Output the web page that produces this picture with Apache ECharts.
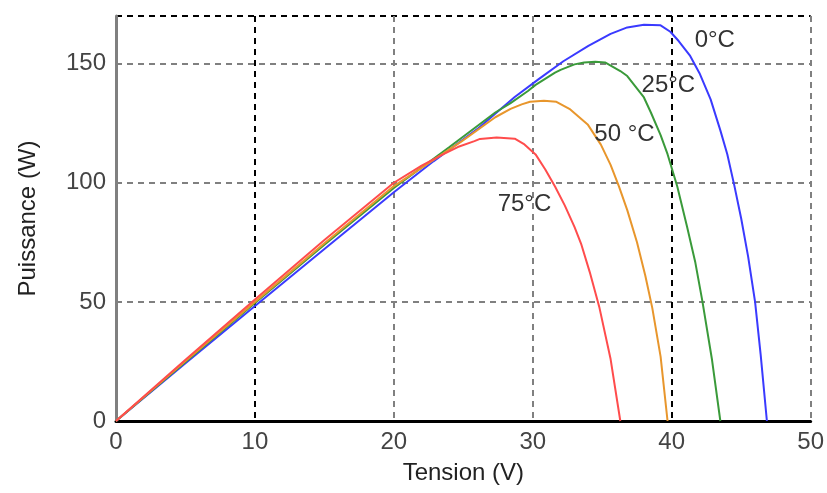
<!DOCTYPE html>
<html>
<head>
<meta charset="utf-8">
<script src="https://cdn.jsdelivr.net/npm/echarts@6/dist/echarts.min.js"></script>
<style>html,body{margin:0;padding:0;background:#fff}#c{width:827px;height:493px}</style>
</head>
<body>
<div id="c"></div>
<script>
// Tension (V) / Puissance (W)
const v0 = [0, 5, 10, 15, 20, 22.85, 26.1, 28.7, 30.4, 32.2, 34, 35.6, 36.8, 38, 39.2, 39.9, 40.5, 41.3, 42, 42.8, 43.5, 44, 44.5, 45, 45.5, 46, 46.4, 46.85];
const p0 = [0, 24.2, 48.3, 72.2, 96, 109, 123, 136, 143.4, 151, 157.5, 162.5, 165.2, 166.3, 166.1, 163.4, 159.5, 153.5, 146, 135, 122, 112, 99, 85, 69, 50, 28, 0];

const v25 = [0, 5, 10, 15, 20, 24, 27.3, 28.4, 29.65, 30.2, 31.6, 32, 33, 33.7, 34.5, 35.2, 36.3, 36.8, 38, 38.5, 39.2, 39.7, 40.4, 41.1, 41.7, 42.2, 42.9, 43.5];
const p25 = [0, 24.8, 49.5, 74, 97.8, 115, 129.5, 133.4, 138.5, 141.1, 146.2, 147.4, 149.7, 150.5, 150.8, 150.5, 146.9, 144.8, 135.8, 129.5, 120, 112, 98.4, 81.6, 66.5, 50.5, 25.7, 0];

const v50 = [0, 5, 10, 15, 20, 24.9, 27.3, 28.4, 29.2, 29.8, 30.8, 31.7, 32.7, 33.95, 34.9, 35.6, 36.2, 36.8, 37.5, 38.1, 38.6, 39.2, 39.7];
const p50 = [0, 25.2, 50, 74.6, 98.6, 117.5, 127.5, 131, 132.9, 134, 134.4, 134, 130.8, 124.5, 116, 107.5, 98.5, 88.5, 75, 61, 47.5, 27, 0];

const v75 = [0, 5, 10, 15, 20, 22, 23.5, 24.6, 25.8, 26.2, 27.4, 28.7, 29.4, 30.2, 30.9, 31.6, 32.3, 33.0, 33.5, 34.1, 34.8, 35.6, 36.3];
const p75 = [0, 25.7, 51, 76, 100, 107.2, 111.8, 115, 117.5, 118.4, 119, 118.5, 116.1, 111.9, 105.6, 98.4, 90.5, 81.5, 74, 62.5, 47.5, 26, 0];

const labels = ['0°C', '25°C', '50 °C', '75°C'];
const labelV = [43.1, 39.76, 36.6, 29.4];
const labelP = [159.8, 141, 120.5, 91];

const xTicks = [0, 10, 20, 30, 40, 50];
const yTicks = [0, 50, 100, 150];

const colors = ['#3a3aff', '#3a9a3a', '#e8962c', '#ff4c4c'];
const sets = [[v0, p0], [v25, p25], [v50, p50], [v75, p75]];

const font = "'Liberation Sans', Arial, sans-serif";
const chart = echarts.init(document.getElementById('c'), null, {renderer: 'canvas'});

const series = sets.map((s, i) => ({
  type: 'line',
  data: s[0].map((x, k) => [x, s[1][k]]),
  showSymbol: false,
  smooth: false,
  lineStyle: {color: colors[i], width: 2},
  itemStyle: {color: colors[i]},
  z: 2 + i,
  animation: false,
  markPoint: {
    symbol: 'circle', symbolSize: 0,
    data: [{coord: [labelV[i], labelP[i]], value: labels[i]}],
    label: {show: true, position: 'inside', formatter: labels[i], fontSize: 24, fontFamily: font, color: '#333'},
    animation: false
  }
}));

chart.setOption({
  animation: false,
  backgroundColor: '#fff',
  grid: {left: 116, right: 13, top: 16, bottom: 72, containLabel: false},
  xAxis: {
    type: 'value', min: 0, max: 50, interval: 10,
    name: 'Tension (V)', nameLocation: 'middle', nameGap: 40,
    nameTextStyle: {fontSize: 24, fontFamily: font, color: '#222'},
    axisLine: {show: true, lineStyle: {color: '#000', width: 3}},
    axisTick: {show: false},
    axisLabel: {margin: 9, fontSize: 24, fontFamily: font, color: '#444',
      formatter: v => xTicks.includes(v) ? String(v) : ''},
    splitLine: {show: true, lineStyle: {type: [6, 5], width: 2,
      color: ['#808080', '#000', '#808080', '#808080', '#000', '#808080']}}
  },
  yAxis: {
    type: 'value', min: 0, max: 170, interval: 50,
    name: 'Puissance (W)', nameLocation: 'middle', nameGap: 76,
    nameTextStyle: {fontSize: 24, fontFamily: font, color: '#222'},
    axisLine: {show: true, lineStyle: {color: '#808080', width: 3}},
    axisTick: {show: false},
    axisLabel: {margin: 10, fontSize: 24, fontFamily: font, color: '#444',
      formatter: v => yTicks.includes(v) ? String(v) : ''},
    splitLine: {show: true, lineStyle: {type: [6, 5], width: 2,
      color: ['#000', '#808080', '#808080', '#808080', '#000']}}
  },
  series: series
});
</script>
</body>
</html>
